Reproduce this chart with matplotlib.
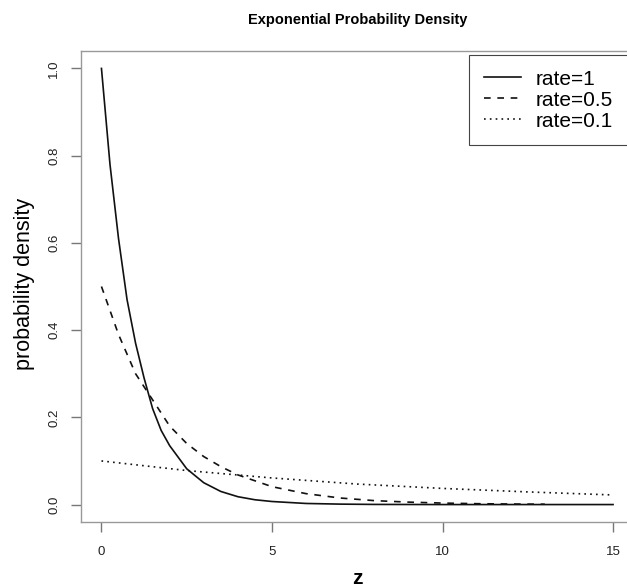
import matplotlib
matplotlib.use('Agg')
import matplotlib.pyplot as plt

plt.rcParams['font.family'] = ['Liberation Sans', 'DejaVu Sans']

# values
z_rate1 = [0, 0.25, 0.5, 0.75, 1, 1.25, 1.5, 1.75, 2, 2.5, 3, 3.5, 4, 4.5, 5, 6, 7, 8, 10, 15]
d_rate1 = [1.0, 0.78, 0.61, 0.47, 0.37, 0.29, 0.22, 0.17, 0.135, 0.082, 0.05, 0.03, 0.018,
           0.011, 0.007, 0.0025, 0.001, 0.0003, 0.0, 0.0]
z_rate05 = [0, 0.5, 1, 1.5, 2, 2.5, 3, 3.5, 4, 5, 6, 7, 8, 9, 10, 11, 12, 13]
d_rate05 = [0.5, 0.39, 0.30, 0.24, 0.18, 0.14, 0.11, 0.087, 0.068, 0.041, 0.025, 0.015,
            0.009, 0.0056, 0.0034, 0.002, 0.0012, 0.0008]
z_rate01 = [0, 2.5, 5, 7.5, 10, 12.5, 15]
d_rate01 = [0.10, 0.078, 0.061, 0.047, 0.037, 0.029, 0.022]

labels = ['rate=1', 'rate=0.5', 'rate=0.1']
x_ticks = [0, 5, 10, 15]
y_ticks = [0.0, 0.2, 0.4, 0.6, 0.8, 1.0]

fig = plt.figure(figsize=(6.27, 5.88), dpi=100)
ax = fig.add_axes([81 / 627, 66 / 588, 552.5 / 627, 471 / 588])

ax.plot(z_rate1, d_rate1, color='#111111', lw=1.2, label=labels[0])
ax.plot(z_rate05, d_rate05, color='#111111', lw=1.2, dashes=(4, 4), label=labels[1])
ax.plot(z_rate01, d_rate01, color='#111111', lw=1.2, dashes=(1, 2.5), label=labels[2])

ax.set_xlim(-0.6, 15.6)
ax.set_ylim(-0.04, 1.04)
ax.set_xticks(x_ticks)
ax.set_xticklabels([str(t) for t in x_ticks])
ax.set_yticks(y_ticks)
ax.set_yticklabels(['%.1f' % t for t in y_ticks], rotation=90, va='center')
for s in ax.spines.values():
    s.set_color('#999999')
    s.set_linewidth(1.0)
ax.tick_params(direction='out', length=7, width=1, color='#777777',
               labelsize=9.5, labelcolor='#222222')
ax.tick_params(axis='x', pad=10)
ax.tick_params(axis='y', pad=8)

fig.text(0.57, 1 - 20 / 588, 'Exponential Probability Density', ha='center', va='center',
         fontsize=10.5, fontweight='bold')
fig.text(0.57, 1 - 578 / 588, 'z', ha='center', va='center', fontsize=15, fontweight='bold')
fig.text(25 / 627, 1 - 284 / 588, 'probability density', ha='center', va='center',
         rotation=90, fontsize=15.5)

leg = ax.legend(loc='upper left', bbox_to_anchor=(469 / 627, 1 - 55 / 588),
                bbox_transform=fig.transFigure, borderaxespad=0, fontsize=15,
                handlelength=1.8, handletextpad=0.7, labelspacing=0.1,
                borderpad=0.7, fancybox=False, framealpha=1)
leg.get_frame().set_edgecolor('#444444')
leg.get_frame().set_linewidth(0.8)

fig.savefig('out.png', dpi=100)
